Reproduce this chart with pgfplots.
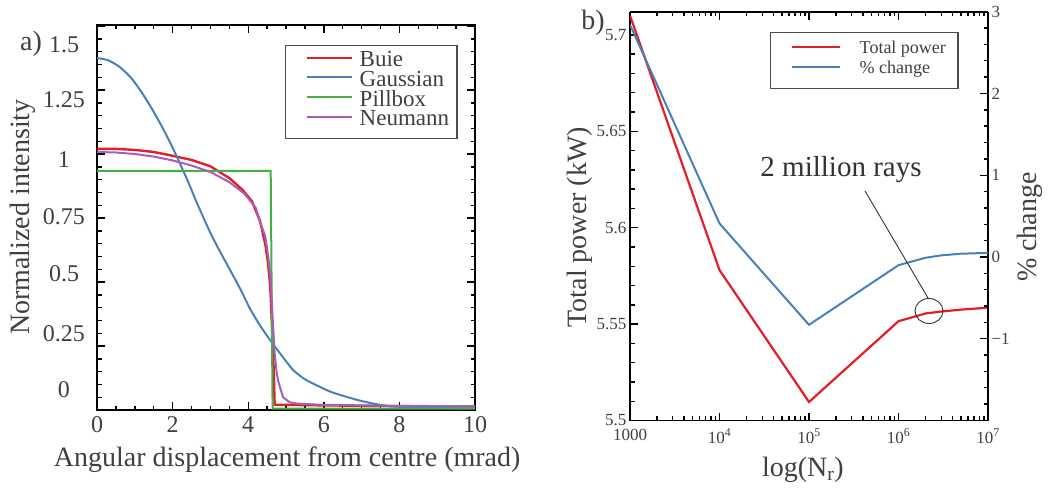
\documentclass[border=0pt]{standalone}
\usepackage{fontspec}
\setmainfont{Liberation Serif}
\usepackage{pgfplots}
\usepackage{pgfplotstable}
\pgfplotsset{compat=1.18}
\definecolor{cred}{RGB}{228,30,38}
\definecolor{cblue}{RGB}{70,130,185}
\definecolor{cgreen}{RGB}{70,175,70}
\definecolor{cpurple}{RGB}{165,95,185}

\pgfplotstableread{
x y
0 1.020
0.5 1.020
1.0 1.016
1.5 1.008
2.0 0.993
2.5 0.977
3.0 0.952
3.5 0.906
3.85 0.86
4.1 0.815
4.31 0.74
4.45 0.65
4.52 0.58
4.58 0.49
4.62 0.36
4.66 0.23
4.685 0.10
4.70 0.02
5 0.02
6 0.018
8 0.015
10 0.014
}\buie

\pgfplotstableread{
x y
0 1.375
0.3 1.366
0.6 1.34
0.9 1.298
1.14 1.25
1.4 1.19
1.67 1.12
1.9 1.055
2.11 0.99
2.4 0.895
2.64 0.81
2.99 0.695
3.25 0.62
3.52 0.547
3.8 0.47
4.05 0.395
4.3 0.333
4.58 0.273
4.9 0.21
5.19 0.156
5.5 0.12
5.9 0.09
6.2 0.07
6.61 0.051
7 0.035
7.49 0.02
8 0.012
9 0.008
10 0.006
}\gauss

\pgfplotstableread{
x y
0 0.934
4.595 0.934
4.645 0.005
10 0.005
}\pill

\pgfplotstableread{
x y
0 1.008
0.5 1.006
1.0 1.0
1.5 0.99
2.0 0.975
2.5 0.955
3.0 0.93
3.5 0.89
3.9 0.845
4.2 0.79
4.31 0.735
4.45 0.68
4.53 0.6
4.6 0.5
4.65 0.35
4.7 0.22
4.75 0.15
4.8 0.11
4.92 0.05
5.1 0.03
5.3 0.025
6 0.02
8 0.016
10 0.015
}\neum

\pgfplotstableread{
n p
1000 5.710
10000 5.578
100000 5.5096
1000000 5.5515
2000000 5.5555
3000000 5.5565
5000000 5.5575
10000000 5.5585
}\power

\pgfplotstableread{
n c
1000 2.84
10000 0.41
100000 -0.83
1000000 -0.10
2000000 -0.01
3000000 0.02
5000000 0.04
10000000 0.05
}\change

\begin{document}
\begin{tikzpicture}
\path[use as bounding box] (0pt,0pt) rectangle (1048pt,487pt);
% ---------------- a)
\begin{axis}[
  at={(97pt,77pt)}, anchor=south west, scale only axis,
  width=378pt, height=385pt,
  xmin=0, xmax=10, ymin=0, ymax=1.504,
  xtick={0,2,4,6,8,10}, xticklabels={0,2,4,6,8,10}, minor x tick num=3,
  ytick={0,0.25,0.5,0.75,1,1.25,1.5}, yticklabels={}, minor y tick num=4,
  extra y ticks={0.078,0.299,0.534,0.755,0.977,1.211,1.426},
  extra y tick labels={0,0.25,0.5,0.75,1,1.25,1.5},
  extra y tick style={major tick length=0pt, yticklabel style={anchor=center, xshift=-33pt}},
  tick align=inside, major tick length=8pt, minor tick length=4.5pt,
  axis line style={line width=1.8pt},
  every tick/.style={line width=1.4pt, black},
  ticklabel style={font=\rmfamily\fontsize{24}{24}\selectfont, text=black!75},
  xticklabel style={yshift=-3pt},
  xlabel={Angular displacement from centre (mrad)},
  ylabel={Normalized intensity},
  label style={font=\rmfamily\fontsize{28}{28}\selectfont, text=black!75},
  xlabel style={at={(axis description cs:0.503,-0.13)}, anchor=center},
  ylabel style={at={(axis description cs:-0.196,0.501)}, anchor=center},
  legend style={at={(rel axis cs:0.497,0.948)}, anchor=north west,
    draw=black!70, line width=1.3pt, inner xsep=8pt, inner ysep=7pt,
    font=\rmfamily\fontsize{23}{23}\selectfont, text=black!75,
    nodes={inner sep=0pt, text height=14pt, text depth=5.7pt},
    column sep=7pt},
  legend cell align=left,
  legend image code/.code={\path (0pt,5pt); \draw[#1, line width=2pt] (12pt,5pt) -- (57pt,5pt);},
]
\addplot[cred, line width=2.4pt] table[x=x,y=y] {\buie};
\addlegendentry{Buie}
\addplot[cblue, line width=2pt, smooth, tension=0.4] table[x=x,y=y] {\gauss};
\addlegendentry{Gaussian}
\addplot[cgreen, line width=2pt] table[x=x,y=y] {\pill};
\addlegendentry{Pillbox}
\addplot[cpurple, line width=2pt] table[x=x,y=y] {\neum};
\addlegendentry{Neumann}
\end{axis}
\node[font=\rmfamily\fontsize{28}{28}\selectfont, text=black!75] at (31pt,443pt) {a)};
% ---------------- b) left axis
\begin{axis}[
  at={(630pt,66.5pt)}, anchor=south west, scale only axis,
  width=358pt, height=408.8pt,
  xmode=log, xmin=1000, xmax=1e7, ymin=5.5, ymax=5.712,
  axis y line*=left,
  xtick={1000,1e4,1e5,1e6,1e7},
  xticklabels={1000,10\textsuperscript{4},10\textsuperscript{5},10\textsuperscript{6},10\textsuperscript{7}},
  ytick={5.5,5.55,5.6,5.65,5.7}, yticklabels={5.5,5.55,5.6,5.65,5.7},
  minor y tick num=4,
  tick align=inside, major tick length=8pt, minor tick length=4.5pt,
  axis line style={line width=1.8pt},
  every tick/.style={line width=1.4pt, black},
  ticklabel style={font=\rmfamily\fontsize{17}{17}\selectfont, text=black!75},
  xticklabel style={yshift=-5pt},
  xlabel={log(N\textsubscript{r})},
  ylabel={Total power (kW)},
  label style={font=\rmfamily\fontsize{28}{28}\selectfont, text=black!75},
  xlabel style={at={(axis description cs:0.483,-0.121)}, anchor=center},
  ylabel style={at={(axis description cs:-0.14,0.473)}, anchor=center},
  legend style={at={(rel axis cs:0.391,0.950)}, anchor=north west,
    draw=black!70, line width=1.3pt, inner xsep=12pt, inner ysep=8pt,
    font=\rmfamily\fontsize{18}{18}\selectfont, text=black!75,
    nodes={inner sep=0pt, text height=13pt, text depth=7pt},
    column sep=19pt},
  legend cell align=left,
  legend image code/.code={\path (0pt,4pt); \draw[#1, line width=2pt] (8pt,4pt) -- (56pt,4pt);},
]
\addplot[cred, line width=2.2pt] table[x=n,y=p] {\power};
\addlegendentry{Total power}
\addlegendimage{cblue, line width=2pt}
\addlegendentry{\% change}
\end{axis}
% ---------------- b) right axis
\begin{axis}[
  at={(630pt,66.5pt)}, anchor=south west, scale only axis,
  width=358pt, height=408.8pt,
  xmode=log, xmin=1000, xmax=1e7, ymin=-2, ymax=3,
  axis x line=none, axis y line*=right,
  ytick={-2,-1,0,1,2,3}, yticklabels={,−1,0,1,2,3},
  minor y tick num=4,
  tick align=inside, major tick length=8pt, minor tick length=4.5pt,
  axis line style={line width=1.8pt},
  every tick/.style={line width=1.4pt, black},
  ticklabel style={font=\rmfamily\fontsize{17}{17}\selectfont, text=black!75},
  ylabel={\% change},
  label style={font=\rmfamily\fontsize{28}{28}\selectfont, text=black!75},
  ylabel style={at={(axis description cs:1.117,0.473)}, anchor=center, rotate=0},
]
\addplot[cblue, line width=2pt] table[x=n,y=c] {\change};
\end{axis}
\node[font=\rmfamily\fontsize{28}{28}\selectfont, text=black!75] at (593pt,464pt) {b)};
\node[font=\rmfamily\fontsize{29}{29}\selectfont, text=black!80] at (841pt,317pt) {2 million rays};
\draw[line width=0.9pt, black!80] (865pt,296pt) -- (928pt,189pt);
\draw[line width=0.9pt, black!80] (929pt,176pt) ellipse [x radius=14pt, y radius=12.5pt];
\end{tikzpicture}
\end{document}
